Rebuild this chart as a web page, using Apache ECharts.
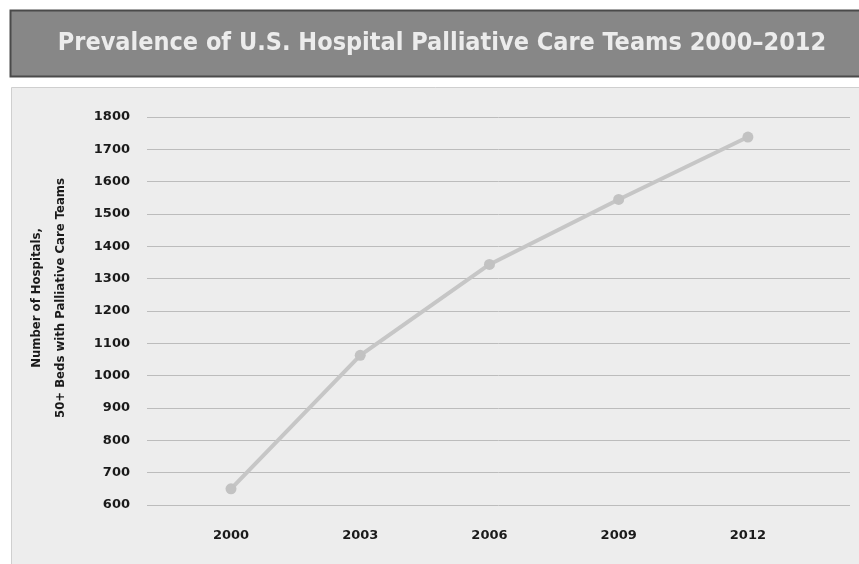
<!DOCTYPE html>
<html><head><meta charset="utf-8">
<script src="https://cdn.jsdelivr.net/npm/echarts@6/dist/echarts.min.js"></script>
<style>html,body{margin:0;padding:0;background:#fff}#c{width:859px;height:564px}</style>
</head><body><div id="c"></div>
<script>
var titleText = 'Prevalence of U.S. Hospital Palliative Care Teams 2000\u20132012';
var yAxisName = 'Number of Hospitals,\n50+ Beds with Palliative Care Teams';
var years = [2000, 2003, 2006, 2009, 2012];
var hospitals = [650, 1063, 1344, 1545, 1738];
var yTicks = [600, 700, 800, 900, 1000, 1100, 1200, 1300, 1400, 1500, 1600, 1700, 1800];

var chart = echarts.init(document.getElementById('c'), null, {renderer: 'canvas'});
var pts = years.map(function (y, i) { return [y, hospitals[i]]; });
var cond = '"DejaVu Sans Condensed", "DejaVu Sans", sans-serif';
chart.setOption({
  animation: false,
  backgroundColor: '#ffffff',
  graphic: [
    {type: 'rect', z: -10, shape: {x: 10.5, y: 10.5, width: 852, height: 66}, style: {fill: '#878787', stroke: '#4a4a4a', lineWidth: 2}},
    {type: 'rect', z: -10, shape: {x: 11.5, y: 87.5, width: 852, height: 480}, style: {fill: '#ededed', stroke: '#cfcfcf', lineWidth: 1}}
  ],
  title: {
    text: titleText, left: 437, top: 26, textAlign: 'center',
    textStyle: {fontFamily: cond, fontWeight: 'bold', fontSize: 25, color: '#ececec'}
  },
  grid: {left: 147, right: 9, top: 117, bottom: 59},
  xAxis: {
    type: 'value', min: 1998.05, max: 2014.37,
    axisLine: {show: false}, axisTick: {show: false}, splitLine: {show: false},
    axisLabel: {
      customValues: years, margin: 24,
      formatter: function (v) { return String(v); },
      fontFamily: 'DejaVu Sans', fontWeight: 'bold', fontSize: 13, color: '#1a1a1a'
    }
  },
  yAxis: {
    type: 'value', min: yTicks[0], max: yTicks[yTicks.length - 1], interval: 100,
    name: yAxisName, nameLocation: 'middle', nameGap: 74, nameRotate: 90,
    nameTextStyle: {fontFamily: cond, fontWeight: 'bold', fontSize: 13, color: '#1a1a1a', lineHeight: 24, padding: [0, 0, 0, 26]},
    axisLine: {show: false}, axisTick: {show: false},
    axisLabel: {margin: 17, fontFamily: 'DejaVu Sans', fontWeight: 'bold', fontSize: 13, color: '#1a1a1a',
      formatter: function (v) { return String(v); }},
    splitLine: {lineStyle: {color: '#bcbcbc', width: 1}}
  },
  series: [{
    type: 'line', data: pts, smooth: false,
    symbol: 'circle', symbolSize: 11,
    lineStyle: {color: '#c6c6c6', width: 4},
    itemStyle: {color: '#c2c2c2'}
  }]
});
</script></body></html>
